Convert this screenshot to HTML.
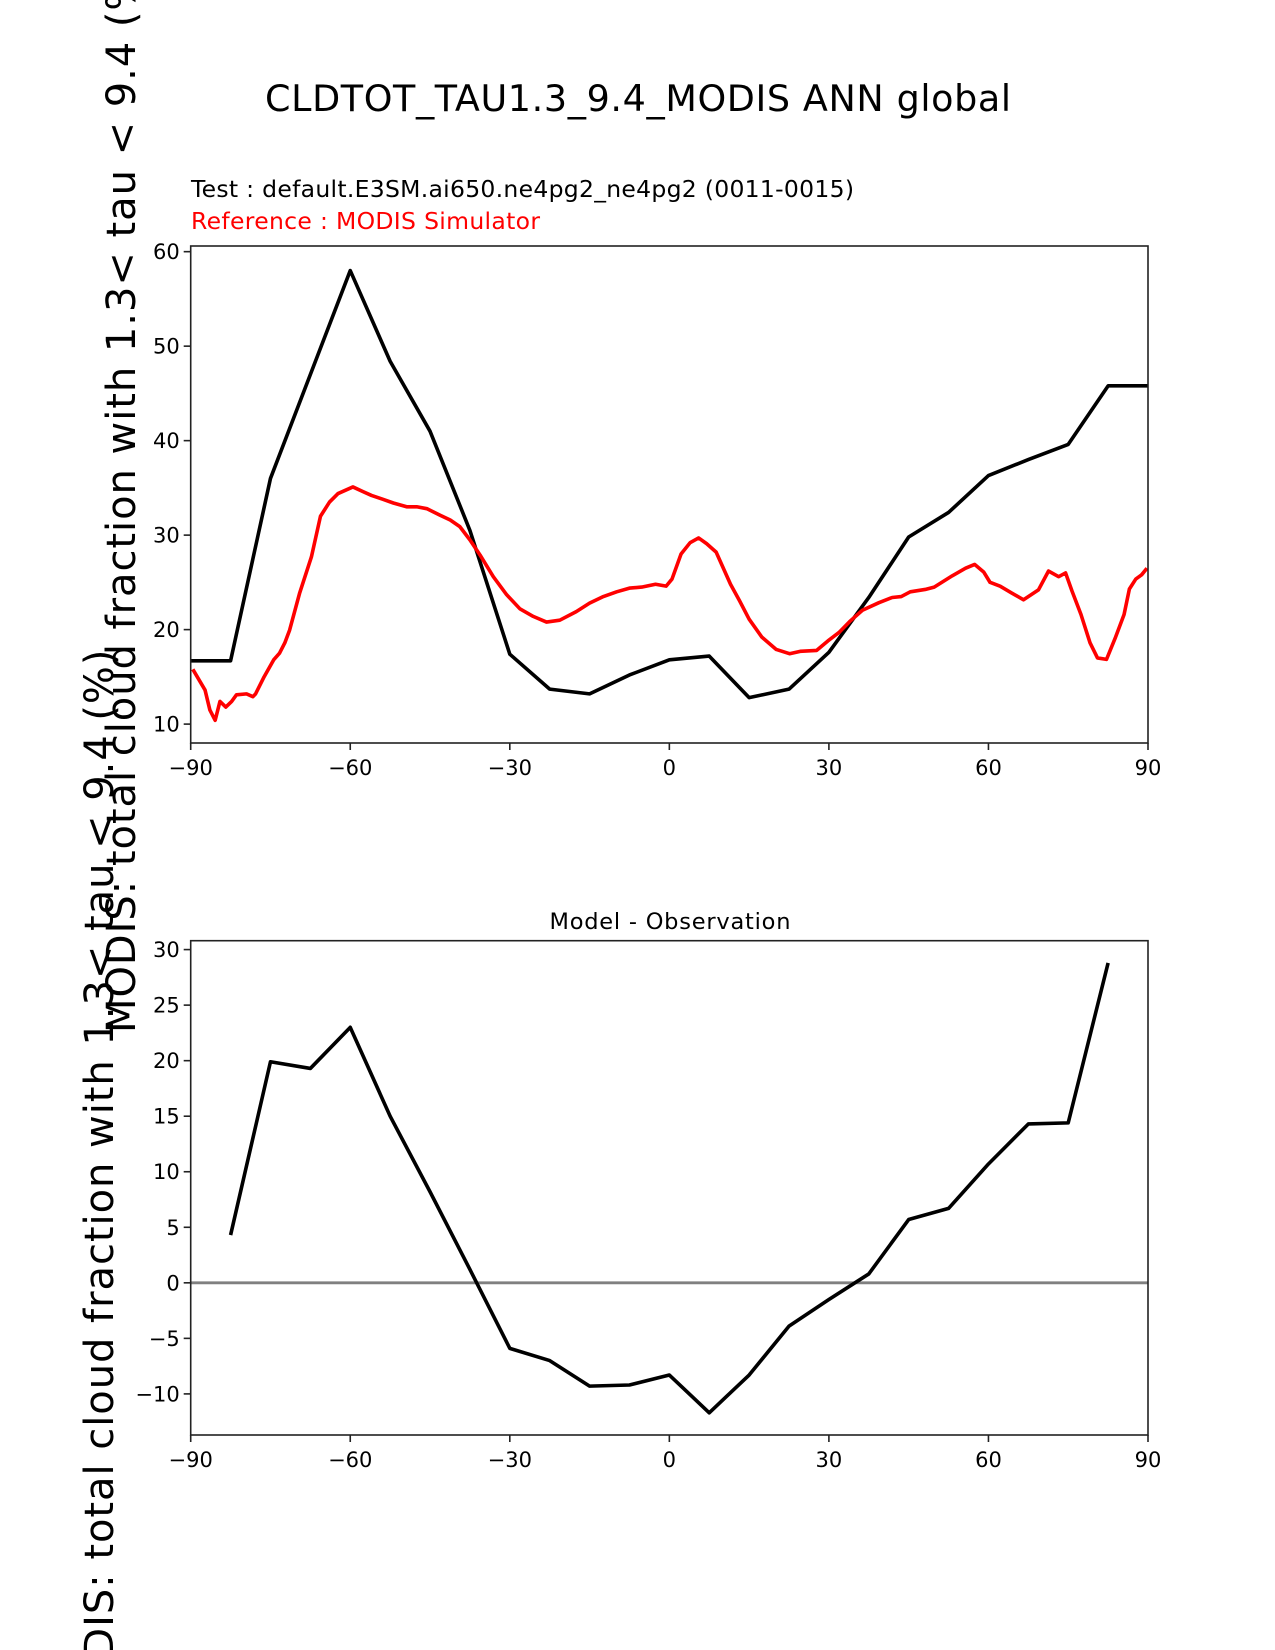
<!DOCTYPE html>
<html><head><meta charset="utf-8"><style>
html,body{margin:0;padding:0;background:#fff;}
svg{display:block;font-family:"DejaVu Sans","Liberation Sans",sans-serif;}
</style></head><body>
<svg id="fig" width="1275" height="1650" viewBox="0 0 1275 1650">
<text x="638" y="111" font-size="36.5" text-anchor="middle" textLength="746">CLDTOT_TAU1.3_9.4_MODIS ANN global</text>
<text x="191" y="197" font-size="23.5" textLength="663">Test : default.E3SM.ai650.ne4pg2_ne4pg2 (0011-0015)</text>
<text x="191" y="229" font-size="23.5" fill="#ff0000" textLength="349">Reference : MODIS Simulator</text>
<text x="670" y="929" font-size="22.5" text-anchor="middle" textLength="241">Model - Observation</text>
<text transform="translate(135,494.5) rotate(-90)" font-size="40" text-anchor="middle" textLength="1077">MODIS: total cloud fraction with 1.3&lt; tau &lt; 9.4 (%)</text>
<text transform="translate(113,1188) rotate(-90)" font-size="40" text-anchor="middle" textLength="1077">MODIS: total cloud fraction with 1.3&lt; tau &lt; 9.4 (%)</text>
<g id="top"></g>
<g id="bot"></g>
</svg>
<script>
const xTicks = [-90,-60,-30,0,30,60,90];
const topYTicks = [10,20,30,40,50,60];
const botYTicks = [-10,-5,0,5,10,15,20,25,30];
const testLat = [-90,-82.5,-75,-67.5,-60,-52.5,-45,-37.5,-30,-22.5,-15,-7.5,0,7.5,15,22.5,30,37.5,45,52.5,60,67.5,75,82.5,90];
const testVal = [16.7,16.7,36,47,58,48.4,41,30.5,17.4,13.7,13.2,15.2,16.8,17.2,12.8,13.7,17.6,23.4,29.8,32.4,36.3,38,39.6,45.8,45.8];
const refLat = [-89.6,-87.3,-86.4,-85.4,-84.5,-83.4,-82.3,-81.4,-79.5,-78.3,-77.8,-76.2,-74.4,-73.3,-72.3,-71.4,-69.5,-67.3,-65.6,-63.9,-62.3,-59.5,-57.6,-56,-54.4,-51.9,-49.4,-47.5,-45.6,-43.1,-41.2,-39.4,-37.5,-35.6,-33.1,-30.6,-28.1,-25.6,-23.1,-20.6,-17.5,-15,-12.4,-9.9,-7.4,-5.2,-2.6,-0.6,0.5,2.2,3.9,5.5,7,8.8,11.5,13.2,15,17.4,20.1,22.6,24.6,27.7,29.8,31.9,33.9,36.3,39.4,41.9,43.6,45.3,48.1,49.8,53.2,55.7,57.4,59.1,60.3,62.2,64.3,66.6,69.4,71.3,73.2,74.5,75.7,77.4,79.1,80.5,82.2,83.9,85.5,86.5,87.7,88.8,89.8];
const refVal = [15.8,13.6,11.5,10.4,12.4,11.8,12.4,13.1,13.2,12.9,13.2,15.0,16.8,17.5,18.6,19.95,23.9,27.7,32.0,33.5,34.4,35.1,34.6,34.2,33.9,33.4,33.0,33.0,32.8,32.1,31.6,30.9,29.5,27.9,25.6,23.7,22.2,21.4,20.8,21.0,21.9,22.8,23.5,24.0,24.4,24.5,24.8,24.6,25.35,28.0,29.2,29.7,29.1,28.2,24.8,23.05,21.1,19.2,17.9,17.45,17.7,17.8,18.8,19.7,20.85,22.05,22.85,23.4,23.5,24.0,24.25,24.5,25.7,26.5,26.9,26.1,25.0,24.6,23.9,23.16,24.2,26.2,25.6,26.0,24.1,21.6,18.6,17.0,16.85,19.2,21.6,24.3,25.35,25.8,26.5];
const diffLat = [-82.5,-75,-67.5,-60,-52.5,-45,-37.5,-30,-22.5,-15,-7.5,0,7.5,15,22.5,30,37.5,45,52.5,60,67.5,75,82.5];
const diffVal = [4.3,19.9,19.3,23.0,15.0,8.2,1.2,-5.9,-7.0,-9.3,-9.2,-8.3,-11.7,-8.3,-3.9,-1.5,0.8,5.7,6.7,10.7,14.3,14.4,28.8];

const NS='http://www.w3.org/2000/svg';
const L=190.7,R=1148;
function sx(v){return L+(v+90)/180*(R-L);}
function mk(parent,tag,attrs){const e=document.createElementNS(NS,tag);for(const k in attrs)e.setAttribute(k,attrs[k]);parent.appendChild(e);return e;}

function panel(g,top,bot,ymin,ymax,yTicks,pfx){
  const sy=v=>bot-(v-ymin)/(ymax-ymin)*(bot-top);
  yTicks.forEach(t=>{
    const y=sy(t);
    const tk=mk(g,'line',{x1:L-7,x2:L,y1:y,y2:y,stroke:'#222','stroke-width':1.6});
    
    
    const tx=mk(g,'text',{x:L-11,y:y+7.5,'font-size':21,'text-anchor':'end'});
    tx.textContent=String(t).replace('-','\u2212');
    
    
  });
  xTicks.forEach(t=>{
    const x=sx(t);
    const tk=mk(g,'line',{x1:x,x2:x,y1:bot,y2:bot+7,stroke:'#222','stroke-width':1.6});
    
    
    const tx=mk(g,'text',{x:x,y:bot+32,'font-size':21,'text-anchor':'middle'});
    tx.textContent=String(t).replace('-','\u2212');
    
    
  });
  return sy;
}
function line(g,xs,ys,sy,color,w,name){
  const d=xs.map((x,i)=>(i?'L':'M')+sx(x).toFixed(2)+','+sy(ys[i]).toFixed(2)).join('');
  const p=mk(g,'path',{d:d,fill:'none',stroke:color,'stroke-width':w,'stroke-linejoin':'round'});
  
  
}
function frame(g,top,bot,name){
  const r=mk(g,'rect',{x:L,y:top,width:R-L,height:bot-top,fill:'none',stroke:'#222','stroke-width':1.6});
  
  
}
const gt=document.getElementById('top');
const syT=panel(gt,246,743,8.0,60.6,topYTicks,'top');
line(gt,testLat,testVal,syT,'#000',3.6,'test-line');
line(gt,refLat,refVal,syT,'#ff0000',3.6,'reference-line');
frame(gt,246,743,'top-axes-frame');

const gb=document.getElementById('bot');
const syB=panel(gb,940.7,1435,-13.7,30.8,botYTicks,'diff');
const z=mk(gb,'line',{x1:L,x2:R,y1:syB(0),y2:syB(0),stroke:'#808080','stroke-width':2.8});


line(gb,diffLat,diffVal,syB,'#000',3.6,'difference-line');
frame(gb,940.7,1435,'diff-axes-frame');
</script>
</body></html>
